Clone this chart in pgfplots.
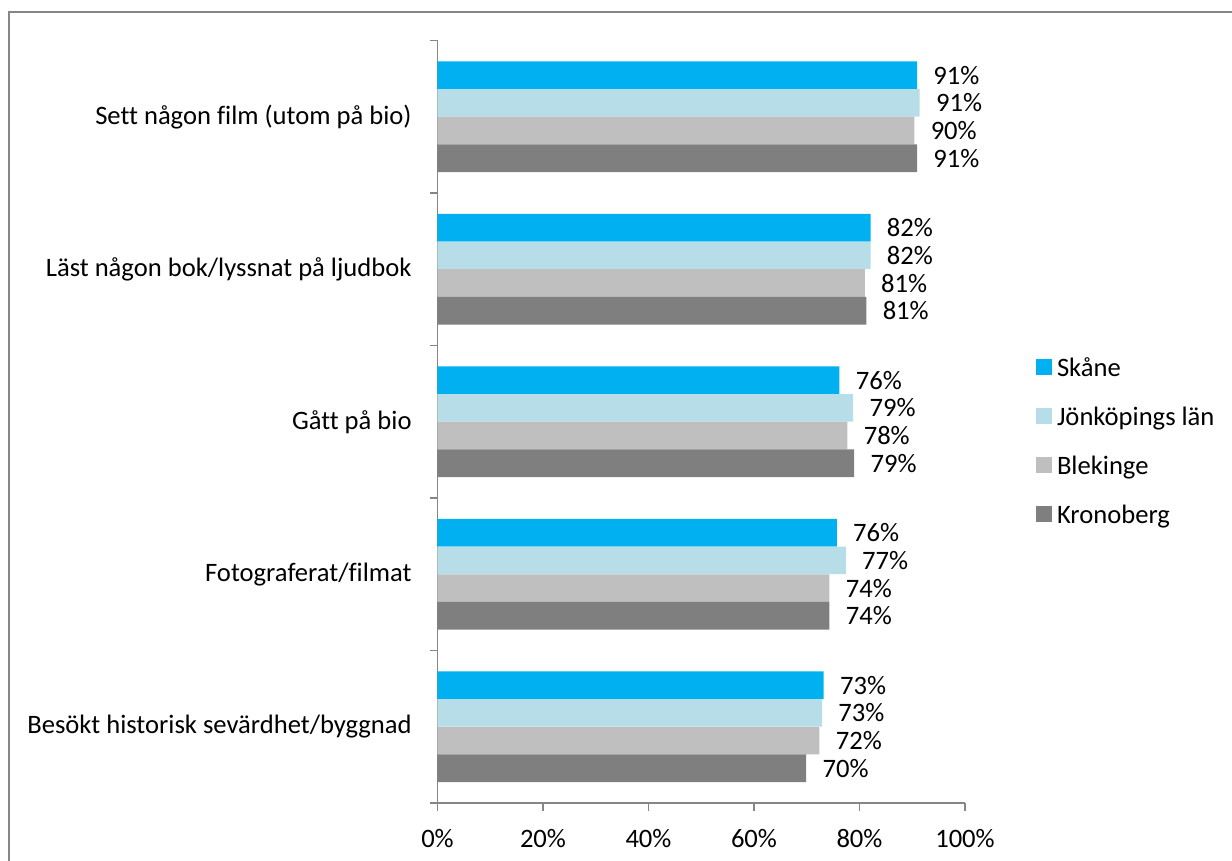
\documentclass[border=0pt]{standalone}
\usepackage{pgfplots}
\pgfplotsset{compat=1.18}
\usepackage{fontspec}
\setmainfont{Carlito}[Ligatures=NoCommon]
\definecolor{skane}{HTML}{00B0F0}
\definecolor{jonk}{HTML}{B7DEE8}
\definecolor{blek}{HTML}{BFBFBF}
\definecolor{kron}{HTML}{7F7F7F}
\definecolor{axgray}{HTML}{868686}

\begin{document}
\begin{tikzpicture}
% 1 px of the reference = 0.5pt
\useasboundingbox (0,0) rectangle (616pt,430.5pt);
\draw[axgray, line width=0.8pt] (4.6pt,-2pt) -- (4.6pt,424.6pt) -- (620pt,424.6pt);
\begin{axis}[
  at={(218.75pt,29pt)}, anchor=south west,
  scale only axis,
  width=263.75pt, height=381.25pt,
  font=\fontsize{13.3}{16}\selectfont,
  /pgf/number format/assume math mode=true,
  xbar, bar width=0.1813,
  xmin=0, xmax=100,
  ymin=-0.5, ymax=4.5,
  axis x line*=bottom, axis y line*=left,
  axis line style={axgray, line width=0.8pt},
  xtick={0,20,...,100},
  minor xtick={0,20,...,100},
  xticklabel={\pgfmathprintnumber{\tick}\%},
  ytick={0,1,2,3,4},
  yticklabels={Besökt historisk sevärdhet/byggnad, Fotograferat/filmat, Gått på bio, Läst någon bok/lyssnat på ljudbok, Sett någon film (utom på bio)},
  minor ytick={-0.5,0.5,...,4.5},
  tick align=outside,
  major tick length=0pt,
  minor tick length=3.85pt,
  tick style={axgray, line width=0.8pt},
  yticklabel style={inner sep=0pt, xshift=-12.75pt},
  xticklabel style={inner sep=0pt, yshift=-13pt},
  nodes near coords={\pgfmathprintnumber[fixed,precision=0]{\pgfplotspointmeta}\%},
  every node near coord/.append style={anchor=west, inner sep=0pt, xshift=8pt, black},
  legend cell align=left,
  legend style={at={(1.1346,0.4754)}, anchor=west, draw=none, fill=none,
    row sep=15.25pt, inner sep=0pt,
    nodes={inner sep=0pt, text depth=0pt}},
  legend image code/.code={\fill[#1] (0pt,-3.9pt) rectangle (7.8pt,3.9pt);},
  every axis plot/.append style={draw=none},
]
\addplot[fill=skane, bar shift=0.272] coordinates
  {(73.2,0) (75.7,1) (76.2,2) (82.1,3) (90.9,4)};
\addplot[fill=jonk, bar shift=0.0907] coordinates
  {(72.9,0) (77.4,1) (78.8,2) (82.1,3) (91.4,4)};
\addplot[fill=blek, bar shift=-0.0907] coordinates
  {(72.4,0) (74.3,1) (77.7,2) (81.0,3) (90.4,4)};
\addplot[fill=kron, bar shift=-0.272] coordinates
  {(69.9,0) (74.3,1) (79.0,2) (81.3,3) (90.9,4)};
\legend{\hspace{2.5pt}Skåne, \hspace{2.5pt}Jönköpings län, \hspace{2.5pt}Blekinge, \hspace{2.5pt}Kronoberg}
\end{axis}
\end{tikzpicture}
\end{document}
